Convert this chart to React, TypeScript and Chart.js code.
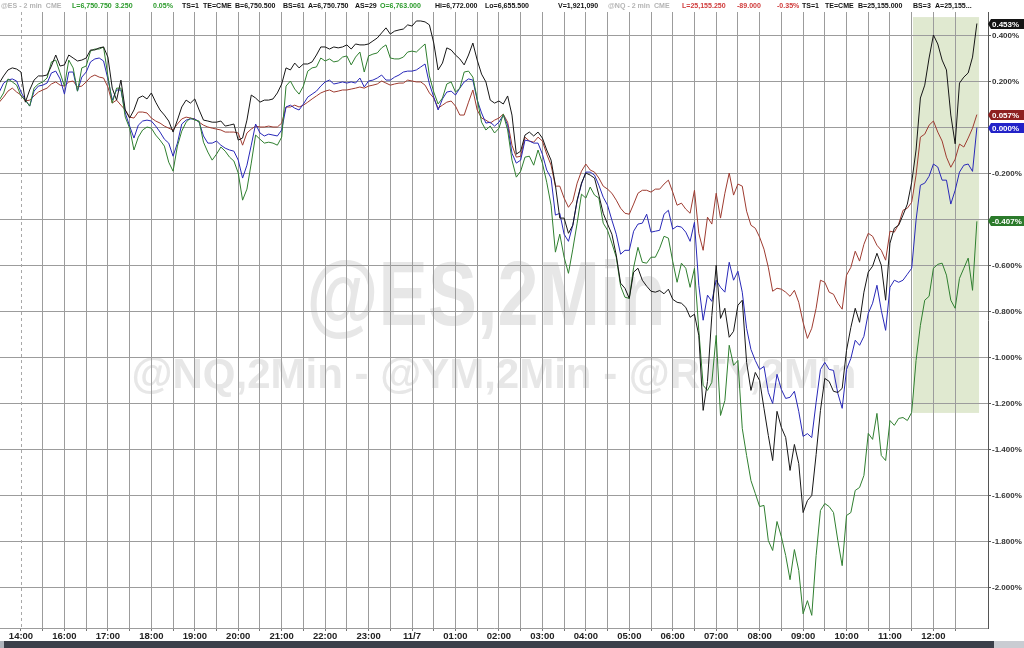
import React, { useEffect, useRef } from 'react';
import { Chart, registerables } from 'chart.js';

Chart.register(...registerables);

// Session-hour axis: 14:00 = 0, each hour = 1 (the 15:00-16:00 halt is compressed)
const xLabels = ['14:00', '16:00', '17:00', '18:00', '19:00', '20:00', '21:00', '22:00', '23:00', '11/7',
  '01:00', '02:00', '03:00', '04:00', '05:00', '06:00', '07:00', '08:00', '09:00', '10:00', '11:00', '12:00'];
const gridHours = Array.from({ length: 44 }, (_, i) => i * 0.5); // 30-minute grid, 14:00 .. 12:30
const startHour = -0.5;
const stepHours = 0.1;
const yTicks = [0.4, 0.2, 0, -0.2, -0.4, -0.6, -0.8, -1.0, -1.2, -1.4, -1.6, -1.8, -2.0];

// % change series (sampled every 6 minutes)
const nqValues = [
  0.194, 0.225, 0.251, 0.260, 0.255,
  0.242, 0.111, 0.164, 0.207, 0.225, 0.225, 0.229, 0.268, 0.316, 0.268,
  0.273, 0.316, 0.303, 0.290, 0.294, 0.303, 0.338, 0.338, 0.347, 0.351,
  0.307, 0.172, 0.120, 0.207, 0.077, 0.042, 0.077, 0.129, 0.138, 0.125,
  0.151, 0.111, 0.077, 0.055, 0.029, -0.019, 0.033, 0.090, 0.120, 0.107,
  0.125, 0.077, 0.033, 0.029, 0.024, 0.024, 0.029, 0.007, 0.011, 0.016,
  -0.054, -0.045, 0.033, 0.142, 0.129, 0.111, 0.120, 0.120, 0.125, 0.151,
  0.190, 0.260, 0.251, 0.281, 0.260, 0.277, 0.277, 0.286, 0.316, 0.351,
  0.351, 0.342, 0.351, 0.347, 0.351, 0.360, 0.342, 0.364, 0.360, 0.360,
  0.364, 0.377, 0.390, 0.412, 0.434, 0.407, 0.420, 0.425, 0.429, 0.447,
  0.442, 0.464, 0.464, 0.460, 0.447, 0.368, 0.251, 0.281, 0.347, 0.338,
  0.316, 0.299, 0.273, 0.316, 0.368, 0.294, 0.233, 0.199, 0.120, 0.107,
  0.116, 0.103, 0.138, 0.055, -0.115, -0.102, -0.032, -0.019, -0.036, -0.019,
  -0.045, -0.097, -0.141, -0.250, -0.393, -0.393, -0.459, -0.424, -0.315, -0.241,
  -0.197, -0.206, -0.219, -0.293, -0.372, -0.419, -0.463, -0.554, -0.676, -0.698,
  -0.742, -0.628, -0.611, -0.663, -0.689, -0.711, -0.715, -0.708, -0.722, -0.702,
  -0.746, -0.759, -0.763, -0.781, -0.824, -0.811, -0.903, -1.229, -1.103, -0.816,
  -0.598, -0.829, -0.785, -0.911, -0.885, -0.772, -0.750, -1.020, -1.142, -1.064,
  -1.099, -1.220, -1.338, -1.447, -1.233, -1.303, -1.347, -1.490, -1.377, -1.460,
  -1.673, -1.621, -1.599, -1.421, -1.229, -1.090, -1.103, -1.146, -1.151, -1.133,
  -0.968, -0.868, -0.785, -0.846, -0.715, -0.628, -0.602, -0.546, -0.598, -0.750,
  -0.502, -0.437, -0.424, -0.380, -0.332, -0.237, -0.097, 0.129, 0.185, 0.303,
  0.403, 0.364, 0.294, 0.251, 0.055, -0.070, 0.194, 0.220, 0.238, 0.307,
  0.453,
];

const rtyValues = [
  0.120, 0.151, 0.212, 0.199, 0.185,
  0.138, 0.120, 0.094, 0.172, 0.190, 0.199, 0.216, 0.286, 0.294, 0.238,
  0.181, 0.294, 0.260, 0.159, 0.260, 0.268, 0.333, 0.342, 0.342, 0.351,
  0.225, 0.107, 0.172, 0.172, 0.046, -0.002, -0.097, -0.041, -0.010, 0.003,
  -0.002, -0.032, -0.054, -0.080, -0.150, -0.189, -0.080, -0.015, 0.024, 0.042,
  0.033, 0.029, -0.063, -0.106, -0.141, -0.115, -0.084, -0.102, -0.128, -0.145,
  -0.197, -0.315, -0.267, -0.154, -0.032, -0.050, -0.067, -0.063, -0.067, -0.076,
  -0.041, 0.181, 0.203, 0.168, 0.146, 0.181, 0.246, 0.260, 0.264, 0.303,
  0.290, 0.299, 0.286, 0.290, 0.307, 0.312, 0.273, 0.307, 0.329, 0.242,
  0.312, 0.320, 0.325, 0.347, 0.360, 0.303, 0.299, 0.299, 0.307, 0.329,
  0.333, 0.329, 0.347, 0.364, 0.225, 0.155, 0.103, 0.129, 0.190, 0.199,
  0.155, 0.172, 0.242, 0.246, 0.220, 0.125, 0.024, -0.010, 0.007, -0.023,
  -0.002, 0.059, -0.010, -0.141, -0.215, -0.189, -0.128, -0.124, -0.163, -0.097,
  -0.154, -0.237, -0.337, -0.541, -0.463, -0.563, -0.633, -0.528, -0.415, -0.289,
  -0.306, -0.258, -0.293, -0.306, -0.415, -0.446, -0.502, -0.563, -0.689, -0.737,
  -0.742, -0.607, -0.520, -0.585, -0.589, -0.563, -0.563, -0.524, -0.472, -0.480,
  -0.581, -0.672, -0.589, -0.611, -0.694, -0.611, -0.881, -1.120, -1.142, -1.107,
  -0.903, -1.251, -1.186, -0.946, -1.033, -1.012, -1.307, -1.425, -1.534, -1.590,
  -1.647, -1.642, -1.795, -1.838, -1.712, -1.778, -1.860, -1.965, -1.834, -1.925,
  -2.113, -2.056, -2.120, -1.860, -1.664, -1.634, -1.647, -1.673, -1.795, -1.904,
  -1.686, -1.673, -1.577, -1.564, -1.512, -1.329, -1.355, -1.242, -1.425, -1.447,
  -1.273, -1.294, -1.264, -1.260, -1.273, -1.238, -1.012, -0.859, -0.750, -0.733,
  -0.611, -0.594, -0.589, -0.641, -0.750, -0.785, -0.655, -0.611, -0.567, -0.707,
  -0.407,
];

const ymValues = [
  0.155, 0.194, 0.207, 0.212, 0.203,
  0.155, 0.120, 0.094, 0.159, 0.181, 0.185, 0.194, 0.238, 0.246, 0.212,
  0.146, 0.242, 0.242, 0.159, 0.220, 0.242, 0.286, 0.299, 0.303, 0.290,
  0.212, 0.120, 0.164, 0.164, 0.064, 0.007, -0.045, 0.011, 0.029, 0.033,
  0.029, 0.007, -0.019, -0.050, -0.067, -0.124, -0.067, 0.016, 0.033, 0.038,
  0.038, 0.024, -0.036, -0.067, -0.067, -0.058, -0.076, -0.089, -0.097, -0.102,
  -0.141, -0.219, -0.163, -0.076, 0.016, -0.023, -0.036, -0.028, -0.032, -0.036,
  -0.010, 0.090, 0.098, 0.085, 0.077, 0.103, 0.133, 0.146, 0.159, 0.181,
  0.199, 0.207, 0.190, 0.194, 0.199, 0.194, 0.199, 0.194, 0.216, 0.177,
  0.203, 0.207, 0.216, 0.229, 0.207, 0.207, 0.220, 0.229, 0.242, 0.246,
  0.246, 0.251, 0.264, 0.277, 0.190, 0.133, 0.077, 0.125, 0.155, 0.159,
  0.142, 0.172, 0.199, 0.212, 0.207, 0.120, 0.064, 0.020, 0.024, 0.007,
  0.024, 0.055, 0.011, -0.111, -0.154, -0.141, -0.054, -0.058, -0.067, -0.067,
  -0.115, -0.184, -0.219, -0.380, -0.372, -0.463, -0.494, -0.424, -0.319, -0.245,
  -0.193, -0.193, -0.206, -0.250, -0.302, -0.337, -0.402, -0.463, -0.550, -0.533,
  -0.533, -0.450, -0.419, -0.415, -0.376, -0.454, -0.450, -0.446, -0.376, -0.359,
  -0.441, -0.428, -0.432, -0.454, -0.494, -0.411, -0.685, -0.837, -0.728, -0.755,
  -0.663, -0.694, -0.715, -0.585, -0.663, -0.624, -0.715, -0.872, -0.964, -1.012,
  -1.051, -1.038, -1.151, -1.199, -1.072, -1.138, -1.177, -1.172, -1.146, -1.233,
  -1.342, -1.330, -1.347, -1.194, -1.051, -1.020, -1.051, -1.055, -1.155, -1.220,
  -1.051, -1.003, -0.924, -0.946, -0.907, -0.807, -0.763, -0.685, -0.794, -0.881,
  -0.694, -0.663, -0.672, -0.663, -0.637, -0.611, -0.402, -0.250, -0.241, -0.211,
  -0.158, -0.171, -0.228, -0.228, -0.332, -0.272, -0.193, -0.163, -0.158, -0.190,
  0.000,
];

const esValues = [
  0.111, 0.133, 0.159, 0.172, 0.155,
  0.142, 0.116, 0.120, 0.138, 0.155, 0.164, 0.172, 0.190, 0.199, 0.185,
  0.181, 0.199, 0.203, 0.177, 0.181, 0.199, 0.220, 0.229, 0.220, 0.216,
  0.177, 0.107, 0.120, 0.098, 0.077, 0.046, 0.042, 0.068, 0.068, 0.064,
  0.042, 0.029, 0.020, 0.007, -0.002, -0.010, 0.016, 0.038, 0.046, 0.042,
  0.038, 0.024, 0.011, 0.003, -0.002, -0.006, -0.010, -0.019, -0.019, -0.019,
  -0.023, -0.076, -0.023, -0.006, 0.007, 0.003, 0.003, 0.007, 0.003, 0.003,
  0.020, 0.090, 0.090, 0.098, 0.090, 0.098, 0.111, 0.125, 0.138, 0.151,
  0.159, 0.164, 0.155, 0.159, 0.164, 0.164, 0.168, 0.172, 0.177, 0.172,
  0.181, 0.185, 0.190, 0.203, 0.194, 0.185, 0.190, 0.194, 0.194, 0.207,
  0.203, 0.199, 0.199, 0.185, 0.151, 0.129, 0.085, 0.098, 0.111, 0.116,
  0.094, 0.055, 0.055, 0.111, 0.164, 0.077, 0.042, 0.033, 0.020, 0.033,
  0.042, 0.059, 0.024, -0.076, -0.128, -0.124, -0.041, -0.058, -0.063, -0.041,
  -0.058, -0.115, -0.163, -0.254, -0.254, -0.306, -0.346, -0.319, -0.241, -0.189,
  -0.158, -0.184, -0.193, -0.219, -0.254, -0.267, -0.285, -0.315, -0.350, -0.372,
  -0.376, -0.332, -0.285, -0.272, -0.272, -0.280, -0.267, -0.267, -0.245, -0.228,
  -0.280, -0.337, -0.328, -0.354, -0.372, -0.272, -0.459, -0.533, -0.389, -0.419,
  -0.285, -0.393, -0.285, -0.197, -0.293, -0.245, -0.254, -0.363, -0.424, -0.437,
  -0.476, -0.528, -0.607, -0.711, -0.698, -0.702, -0.715, -0.733, -0.707, -0.759,
  -0.846, -0.916, -0.872, -0.785, -0.663, -0.672, -0.715, -0.724, -0.763, -0.789,
  -0.641, -0.607, -0.537, -0.580, -0.507, -0.459, -0.472, -0.511, -0.533, -0.576,
  -0.450, -0.454, -0.419, -0.359, -0.350, -0.324, -0.206, -0.041, -0.028, 0.011,
  0.029, -0.019, -0.058, -0.128, -0.172, -0.137, -0.071, -0.084, -0.045, -0.002,
  0.057,
];

// highlighted zone (session hours / percent)
const shadeHours = [20.53, 22.05];
const shadeRange = [0.481, -1.24];

const watermarkMain = '@ES,2Min';
const watermarkSub = '@NQ,2Min - @YM,2Min - @RTY,2Min';

const headerItems = [
  { text: '@ES - 2 min  CME', color: '#b4b4b4', x: 1 },
  { text: 'L=6,750.750', color: '#2a9a2a', x: 72 },
  { text: '3.250', color: '#2a9a2a', x: 115 },
  { text: '0.05%', color: '#2a9a2a', x: 153 },
  { text: 'TS=1', color: '#111', x: 182 },
  { text: 'TE=CME', color: '#111', x: 203 },
  { text: 'B=6,750.500', color: '#111', x: 235 },
  { text: 'BS=61', color: '#111', x: 283 },
  { text: 'A=6,750.750', color: '#111', x: 308 },
  { text: 'AS=29', color: '#111', x: 355 },
  { text: 'O=6,763.000', color: '#2a9a2a', x: 380 },
  { text: 'Hi=6,772.000', color: '#111', x: 435 },
  { text: 'Lo=6,655.500', color: '#111', x: 485 },
  { text: 'V=1,921,090', color: '#111', x: 558 },
  { text: '@NQ - 2 min  CME', color: '#b4b4b4', x: 608 },
  { text: 'L=25,155.250', color: '#d03a3a', x: 682 },
  { text: '-89.000', color: '#d03a3a', x: 737 },
  { text: '-0.35%', color: '#d03a3a', x: 777 },
  { text: 'TS=1', color: '#111', x: 802 },
  { text: 'TE=CME', color: '#111', x: 825 },
  { text: 'B=25,155.000', color: '#111', x: 858 },
  { text: 'BS=3', color: '#111', x: 913 },
  { text: 'A=25,155...', color: '#111', x: 935 },
];

const FONT = '"Liberation Sans", Arial, sans-serif';
const GRID = '#9c9c9c';

const series = [
  { name: 'NQ', values: nqValues, color: '#161616', tag: '#141414' },
  { name: 'RTY', values: rtyValues, color: '#2f7f2f', tag: '#2b7a2b' },
  { name: 'YM', values: ymValues, color: '#2828b8', tag: '#2222c8' },
  { name: 'ES', values: esValues, color: '#9e3b30', tag: '#8e2020' },
];

const fmtPct = (v: number) => (Math.abs(v) < 1e-9 ? 0 : v).toFixed(3) + '%';

const backdropPlugin = {
  id: 'backdrop',
  beforeDraw(chart: any) {
    const { ctx, scales } = chart;
    const xs = scales.x;
    const ys = scales.y;
    ctx.save();
    const l = xs.getPixelForValue(shadeHours[0]);
    const r = xs.getPixelForValue(shadeHours[1]);
    const t = ys.getPixelForValue(shadeRange[0]);
    const b = ys.getPixelForValue(shadeRange[1]);
    ctx.fillStyle = 'rgba(186, 207, 150, 0.45)';
    ctx.fillRect(l, t, r - l, b - t);

    ctx.fillStyle = '#e7e7e7';
    ctx.textAlign = 'center';
    ctx.textBaseline = 'alphabetic';
    ctx.save();
    ctx.translate(486, 325);
    ctx.scale(0.82, 1);
    ctx.font = `bold 90px ${FONT}`;
    ctx.fillText(watermarkMain, 0, 0);
    ctx.restore();
    ctx.font = `bold 42px ${FONT}`;
    ctx.fillText(watermarkSub, 494, 388);
    ctx.restore();
  },
  beforeDatasetsDraw(chart: any) {
    const { ctx, scales, chartArea } = chart;
    const x0 = Math.round(scales.x.getPixelForValue(0)) + 0.5;
    ctx.save();
    ctx.strokeStyle = '#a8a8a8';
    ctx.lineWidth = 1;
    ctx.setLineDash([3, 3]);
    ctx.beginPath();
    ctx.moveTo(x0, chartArea.top);
    ctx.lineTo(x0, chartArea.bottom);
    ctx.stroke();
    ctx.restore();
  },
  afterDraw(chart: any) {
    const { ctx, scales, chartArea } = chart;
    const ys = scales.y;
    const x0 = chartArea.right;
    ctx.save();
    ctx.font = `bold 8px ${FONT}`;
    ctx.textBaseline = 'middle';
    ctx.textAlign = 'left';
    series.forEach((s) => {
      const last = s.values[s.values.length - 1];
      const cy = Math.round(ys.getPixelForValue(last));
      ctx.fillStyle = s.tag;
      ctx.beginPath();
      ctx.moveTo(x0, cy);
      ctx.lineTo(x0 + 3, cy - 5);
      ctx.lineTo(1024, cy - 5);
      ctx.lineTo(1024, cy + 5);
      ctx.lineTo(x0 + 3, cy + 5);
      ctx.closePath();
      ctx.fill();
      ctx.fillStyle = '#ffffff';
      ctx.fillText(fmtPct(last), x0 + 4, cy + 0.5);
    });
    ctx.restore();
  },
};

function PctChart() {
  const canvasRef = useRef<HTMLCanvasElement | null>(null);

  useEffect(() => {
    if (!canvasRef.current) return;
    const chart = new Chart(canvasRef.current, {
      type: 'line',
      data: {
        datasets: series.map((s) => ({
          label: s.name,
          data: s.values.map((v, i) => ({ x: startHour + i * stepHours, y: v })),
          borderColor: s.color,
          borderWidth: 1,
          pointRadius: 0,
          tension: 0,
          fill: false,
        })),
      },
      options: {
        animation: false,
        responsive: false,
        devicePixelRatio: 1,
        layout: { padding: { top: 12, bottom: 8, left: 0, right: 0 } },
        plugins: { legend: { display: false }, tooltip: { enabled: false } },
        scales: {
          x: {
            type: 'linear',
            min: -0.4833,
            max: 22.256,
            afterBuildTicks: (s: any) => {
              s.ticks = gridHours.map((v) => ({ value: v }));
            },
            afterFit: (s: any) => {
              s.height = 12;
            },
            ticks: {
              autoSkip: false,
              maxRotation: 0,
              minRotation: 0,
              padding: 0,
              color: '#222',
              font: { family: FONT, size: 9.5, weight: 'bold' },
              callback: (v: any) => (Number.isInteger(v) ? xLabels[v] : ''),
            },
            grid: {
              color: (c: any) => (c.tick && c.tick.value === 0 ? 'rgba(0,0,0,0)' : GRID),
              lineWidth: 1,
              drawTicks: true,
              tickLength: 3,
              tickColor: '#777',
            },
            border: { display: true, color: GRID },
          },
          y: {
            type: 'linear',
            position: 'right',
            min: -2.175,
            max: 0.503,
            afterBuildTicks: (s: any) => {
              s.ticks = yTicks.map((v) => ({ value: v }));
            },
            afterFit: (s: any) => {
              s.width = 36;
            },
            ticks: {
              padding: 1,
              color: '#333',
              font: { family: FONT, size: 8, weight: 'bold' },
              callback: (v: any) => fmtPct(Number(v)),
            },
            grid: { color: GRID, lineWidth: 1, tickLength: 3, tickColor: '#555' },
            border: { display: true, color: '#555' },
          },
        },
      },
      plugins: [backdropPlugin],
    } as any);
    return () => chart.destroy();
  }, []);

  return <canvas ref={canvasRef} width={1024} height={648} style={{ display: 'block' }} />;
}

export default function App() {
  useEffect(() => {
    document.body.style.margin = '0';
  }, []);
  return (
    <div style={{ position: 'absolute', left: 0, top: 0, width: 1024, height: 648, background: '#fff', overflow: 'hidden' }}>
      <PctChart />
      {headerItems.map((h, i) => (
        <span
          key={i}
          style={{
            position: 'absolute',
            left: h.x,
            top: 1,
            fontFamily: FONT,
            fontSize: '8px',
            fontWeight: 'bold',
            lineHeight: '10px',
            color: h.color,
            whiteSpace: 'pre',
            transform: 'scaleX(0.88)',
            transformOrigin: 'left center',
          }}
        >
          {h.text}
        </span>
      ))}
      <div style={{ position: 'absolute', left: 0, top: 641, width: 1024, height: 7, background: '#3b404a' }} />
      <div style={{ position: 'absolute', left: 0, top: 641, width: 4, height: 7, background: '#b0b5bd' }} />
      <div style={{ position: 'absolute', left: 994, top: 641, width: 30, height: 7, background: '#c9ccd2' }} />
    </div>
  );
}
